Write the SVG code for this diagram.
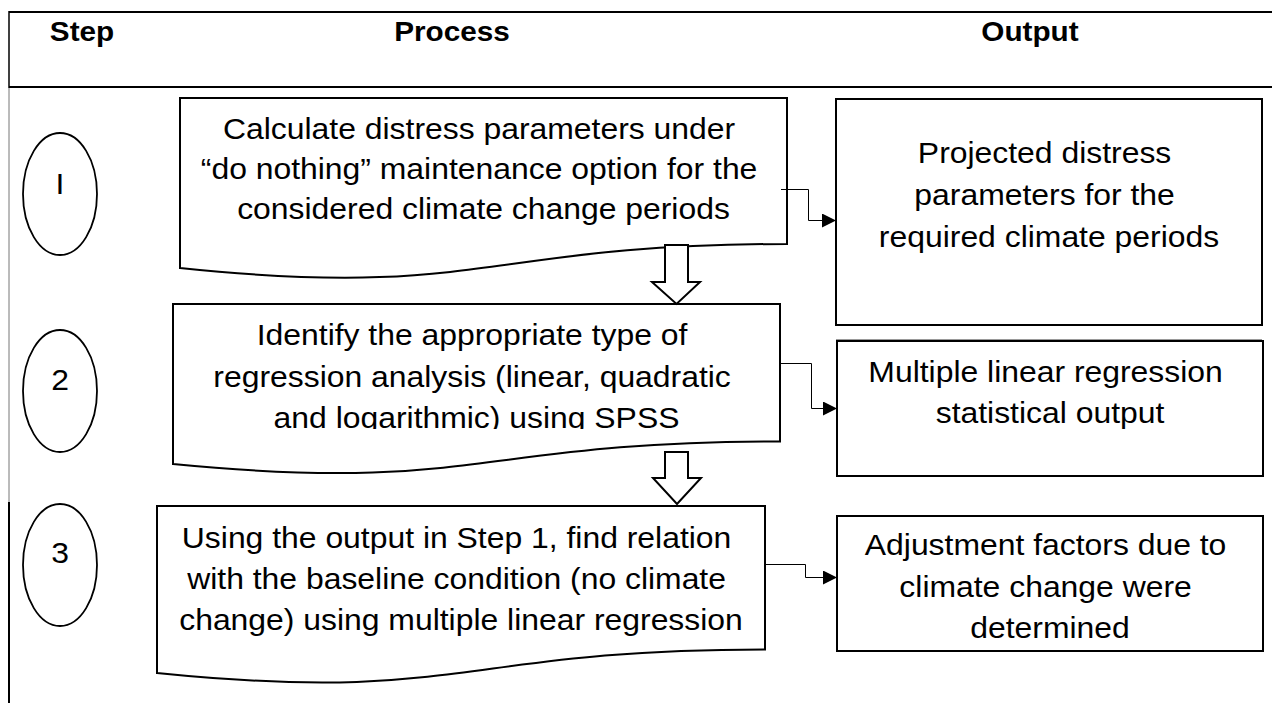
<svg xmlns="http://www.w3.org/2000/svg" width="1272" height="703" viewBox="0 0 1272 703">
  <style>
    .t { font-family: "Liberation Sans", Arial, sans-serif; font-size: 29px; fill: #000; text-anchor: middle; }
    .h { font-family: "Liberation Sans", Arial, sans-serif; font-size: 27px; font-weight: bold; fill: #000; text-anchor: middle; }
    .box { fill: #fff; stroke: #000; stroke-width: 2; }
    .oval { fill: #fff; stroke: #000; stroke-width: 1.8; }
    .blk { fill: #fff; stroke: #000; stroke-width: 2; stroke-linejoin: miter; }
    .link { fill: none; stroke: #000; stroke-width: 1; }
  </style>
  <defs>
    <marker id="tip" viewBox="0 0 14 14" refX="14" refY="7" markerWidth="14" markerHeight="14" markerUnits="userSpaceOnUse" orient="auto">
      <path d="M0,0 L14,7 L0,14 Z" fill="#000"/>
    </marker>
    <clipPath id="clip2">
      <rect x="173" y="304" width="607" height="125"/>
    </clipPath>
  </defs>

  <rect width="1272" height="703" fill="#fff"/>

  <!-- table frame -->
  <g id="table">
    <line x1="9" y1="12" x2="1272" y2="12" stroke="#000" stroke-width="2"/>
    <line x1="9" y1="87" x2="1272" y2="87" stroke="#000" stroke-width="2"/>
    <line x1="9" y1="11" x2="9" y2="88" stroke="#000" stroke-width="1.5"/>
    <line x1="9" y1="88" x2="9" y2="502" stroke="#777" stroke-width="1"/>
    <line x1="9" y1="502" x2="9" y2="703" stroke="#000" stroke-width="2"/>
    <line x1="836" y1="339.5" x2="1262" y2="339.5" stroke="#999" stroke-width="1"/>
    <text class="h" transform="translate(82,0) scale(1.1,1)"><tspan x="0" y="41">Step</tspan></text>
    <text class="h" transform="translate(452,0) scale(1.1,1)"><tspan x="0" y="41">Process</tspan></text>
    <text class="h" transform="translate(1030,0) scale(1.1,1)"><tspan x="0" y="41">Output</tspan></text>
  </g>

  <!-- step markers -->
  <g id="step1">
    <ellipse class="oval" cx="60" cy="194" rx="37" ry="61"/>
    <text class="t" transform="translate(60,0) scale(1.1,1)"><tspan x="0" y="194">I</tspan></text>
  </g>
  <g id="step2">
    <ellipse class="oval" cx="60" cy="391" rx="37" ry="61"/>
    <text class="t" transform="translate(60,0) scale(1.1,1)"><tspan x="0" y="390">2</tspan></text>
  </g>
  <g id="step3">
    <ellipse class="oval" cx="60" cy="565" rx="37" ry="61"/>
    <text class="t" transform="translate(60,0) scale(1.1,1)"><tspan x="0" y="563">3</tspan></text>
  </g>

  <!-- process documents -->
  <g id="process1">
    <path class="box" d="M180,98 H787 V244 C483.5,244 483.5,299.6 180,268 Z"/>
    <text class="t" transform="translate(483.5,0) scale(1.1,1)">
      <tspan x="0" y="139">Calculate distress parameters under</tspan>
      <tspan x="0" y="179">“do nothing” maintenance option for the</tspan>
      <tspan x="0" y="219">considered climate change periods</tspan>
    </text>
  </g>
  <g id="process2">
    <path class="box" d="M173,304 H780 V441.4 C476.5,441.4 476.5,493.7 173,464 Z"/>
    <g clip-path="url(#clip2)">
      <text class="t" transform="translate(476.5,0) scale(1.1,1)">
        <tspan x="0" y="345">Identify the appropriate type of</tspan>
        <tspan x="0" y="387">regression analysis (linear, quadratic</tspan>
        <tspan x="0" y="428">and logarithmic) using SPSS</tspan>
      </text>
    </g>
  </g>
  <g id="process3">
    <path class="box" d="M157,506 H765 V649.4 C461,649.4 461,704 157,673 Z"/>
    <text class="t" transform="translate(461,0) scale(1.1,1)">
      <tspan x="0" y="548">Using the output in Step 1, find relation</tspan>
      <tspan x="0" y="589">with the baseline condition (no climate</tspan>
      <tspan x="0" y="630">change) using multiple linear regression</tspan>
    </text>
  </g>

  <!-- outputs -->
  <g id="output1">
    <rect class="box" x="836" y="99" width="426" height="226"/>
    <text class="t" transform="translate(1049,0) scale(1.1,1)">
      <tspan x="0" y="163">Projected distress</tspan>
      <tspan x="0" y="205">parameters for the</tspan>
      <tspan x="0" y="247">required climate periods</tspan>
    </text>
  </g>
  <g id="output2">
    <rect class="box" x="837" y="341" width="426" height="135"/>
    <text class="t" transform="translate(1050,0) scale(1.1,1)">
      <tspan x="0" y="382">Multiple linear regression</tspan>
      <tspan x="0" y="423">statistical output</tspan>
    </text>
  </g>
  <g id="output3">
    <rect class="box" x="837" y="516" width="426" height="135"/>
    <text class="t" transform="translate(1050,0) scale(1.1,1)">
      <tspan x="0" y="555">Adjustment factors due to</tspan>
      <tspan x="0" y="597">climate change were</tspan>
      <tspan x="0" y="638">determined</tspan>
    </text>
  </g>

  <!-- connectors -->
  <g id="connectors">
    <path class="blk" d="M665,245 H688 V282 H700 L676.5,304 L652,282 H665 Z"/>
    <path class="blk" d="M665,452 H688 V478 H701 L677,504 L653,478 H665 Z"/>
    <path class="link" d="M781,189.5 H808.5 V220.5 H836" marker-end="url(#tip)"/>
    <path class="link" d="M780,363.5 H811.5 V408.5 H837" marker-end="url(#tip)"/>
    <path class="link" d="M765,564.5 H805.5 V577.5 H837" marker-end="url(#tip)"/>
  </g>
</svg>
